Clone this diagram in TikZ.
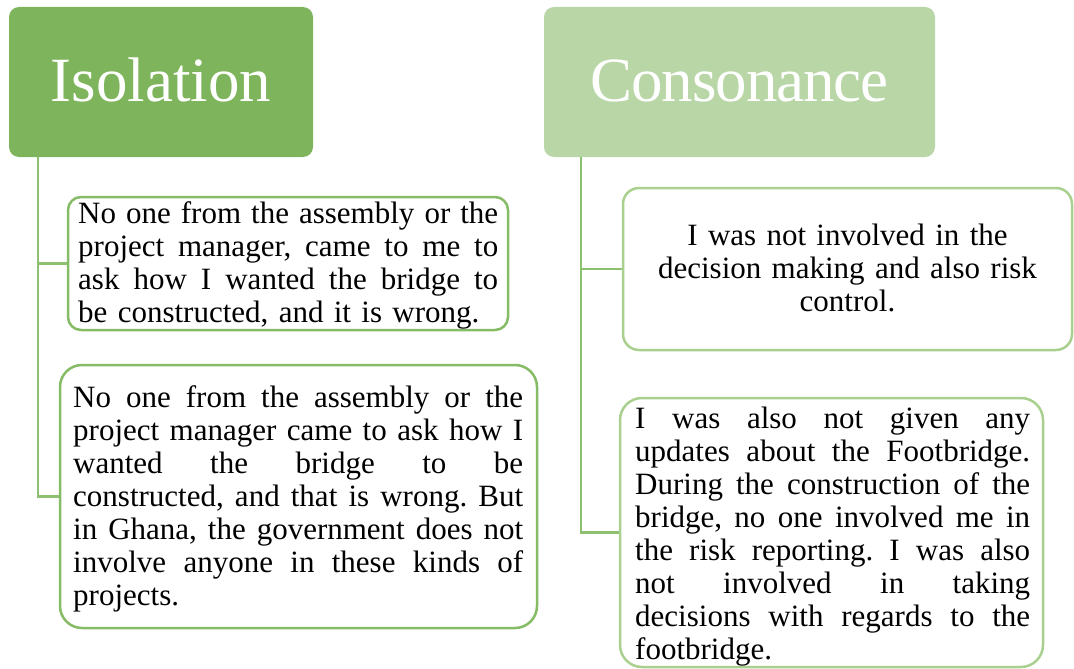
\documentclass[tikz,border=0pt]{standalone}
\usepackage{fontspec}
\setmainfont{Liberation Serif}
\usetikzlibrary{backgrounds}
\definecolor{isoFill}{HTML}{7EB55C}
\definecolor{conFill}{HTML}{B8D6A6}
\definecolor{leftBorder}{HTML}{86BC66}
\definecolor{rightBorder}{HTML}{A9D08F}
\definecolor{connL}{HTML}{8DC070}
\definecolor{connR}{HTML}{8DC070}
\frenchspacing
\newcommand{\jline}[2]{\hbox to #1{\spaceskip=0.25em plus 1fil minus 0.1em\relax #2}}
\begin{document}
\begin{tikzpicture}[x=1pt,y=-1pt,
  titlebox/.style={rounded corners=10pt, minimum height=150pt, inner sep=0pt, text=white,
    font=\fontsize{63}{70}\selectfont, text height=43pt, text depth=5pt},
  framebox/.style={draw, line width=2.5pt, fill=white, inner sep=0pt},
  bodytext/.style={font=\fontsize{31}{33}\selectfont, inner sep=0pt, text=black},
  conn/.style={line width=2.5pt}]
\useasboundingbox (0,0) rectangle (1074,669);

% title boxes
\node[titlebox, fill=isoFill, minimum width=304pt] (iso) at (161,82) {Isolation};
\node[titlebox, fill=conFill, minimum width=391pt] (con) at (739.5,82) {\addfontfeature{LetterSpace=-1.8}Consonance};

% stems
\coordinate (isoStem) at (38,157);
\coordinate (conStem) at (581,157);

% frame positions
\coordinate (p1) at (288,263.5);
\coordinate (p2) at (298.5,496.5);
\coordinate (p3) at (847.5,269);
\coordinate (p4) at (831.5,532.5);

\node[framebox, draw=leftBorder, rounded corners=13pt, minimum width=440pt, minimum height=133pt] (b1) at (p1) {};
\node[framebox, draw=leftBorder, rounded corners=22pt, minimum width=477pt, minimum height=263pt] (b2) at (p2) {};
\node[framebox, draw=rightBorder, rounded corners=16pt, minimum width=449pt, minimum height=162pt] (b3) at (p3) {};
\node[framebox, draw=rightBorder, rounded corners=22pt, minimum width=423pt, minimum height=269pt] (b4) at (p4) {};

% connectors
\begin{scope}[on background layer]
\draw[conn, draw=connL] (isoStem) |- (b1.west);
\draw[conn, draw=connL] (isoStem) |- (b2.west);
\draw[conn, draw=connR] (conStem) |- (b3.west);
\draw[conn, draw=connR] (conStem) |- (b4.west);
\end{scope}

% texts
\node[bodytext, text width=420pt, anchor=base west] (t1) at (78,223) {%
\jline{420pt}{No one from the assembly or the}
\jline{420pt}{project manager, came to me to}
\jline{420pt}{ask how I wanted the bridge to}
\hbox{be constructed, and it is wrong.}};

\node[bodytext, text width=450pt, anchor=base west] (t2) at (73,407) {%
\jline{450pt}{No one from the assembly or the}
\jline{450pt}{project manager came to ask how I}
\jline{450pt}{wanted the bridge to be}
\jline{450pt}{constructed, and that is wrong. But}
\jline{450pt}{in Ghana, the government does not}
\jline{450pt}{involve anyone in these kinds of}
\hbox{projects.}};

\node[bodytext, text width=420pt, align=center, anchor=base] (t3) at (847.5,245) {%
I was not involved in the\\
decision making and also risk\\
control.};

\node[bodytext, text width=395pt, anchor=base west] (t4) at (635,428) {%
\jline{395pt}{I was also not given any}
\jline{395pt}{updates about the Footbridge.}
\jline{395pt}{During the construction of the}
\jline{395pt}{bridge, no one involved me in}
\jline{395pt}{the risk reporting. I was also}
\jline{395pt}{not involved in taking}
\jline{395pt}{decisions with regards to the}
\hbox{footbridge.}};
\end{tikzpicture}
\end{document}
